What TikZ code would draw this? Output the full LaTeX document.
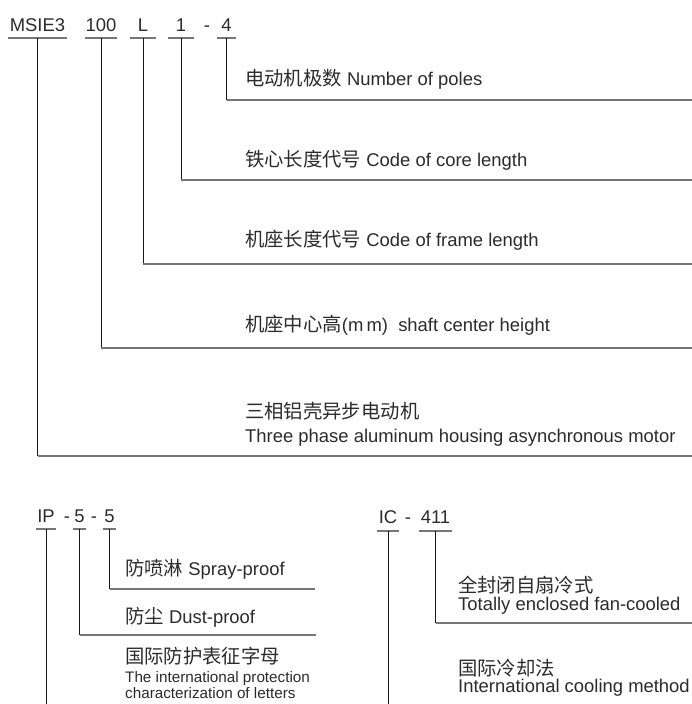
\documentclass[tikz,border=0pt]{standalone}
\usepackage{fontspec}
\setmainfont{Liberation Sans}
\newfontfamily\cjk[Scale=1.05]{Noto Sans CJK SC}
\usepackage{tikz}
\definecolor{ink}{HTML}{2B2B2B}
\definecolor{rulegray}{HTML}{767676}

\begin{document}
\begin{tikzpicture}[x=1bp, y=-1bp,
		code/.style={anchor=south, inner xsep=0pt, inner ysep=6bp, text depth=0pt, font=\fontsize{18.5}{20}\selectfont, text=ink},
		lbl/.style={anchor=base west, inner sep=0pt, font=\fontsize{18.5}{22}\selectfont, text=ink},
		small/.style={anchor=base west, inner sep=0pt, font=\fontsize{15.3}{18}\selectfont, text=ink},
		stem/.style={draw=black!90, line width=0.9bp},
		rule/.style={draw=rulegray, line width=1.3bp}]
		\useasboundingbox (0,0) rectangle (692,704);
		
		\node (msie) [code, minimum width=59bp] at (37.5,38) {MSIE3};
		\node (hund) [code, minimum width=30bp] at (101,38) {100};
		\node (frl) [code, minimum width=26bp] at (143,38) {L};
		\node (core) [code, minimum width=26bp] at (181,38) {1};
		\node (hyA) [code] at (207,38) {-};
		\node (pole) [code, minimum width=19bp] at (226.5,38) {4};
		
		\coordinate (poleEnd) at (692,100);
		\coordinate (coreEnd) at (692,180);
		\coordinate (frlEnd) at (692,264);
		\coordinate (hundEnd) at (692,348);
		\coordinate (msieEnd) at (692,456);
		
		\draw [rule] (msie.south west) -- (msie.south east);
		\draw [stem] (msie.south) -- (msie.south |- msieEnd);
		\draw [rule] (msie.south |- msieEnd) -- (msieEnd);
		\draw [rule] (hund.south west) -- (hund.south east);
		\draw [stem] (hund.south) -- (hund.south |- hundEnd);
		\draw [rule] (hund.south |- hundEnd) -- (hundEnd);
		\draw [rule] (frl.south west) -- (frl.south east);
		\draw [stem] (frl.south) -- (frl.south |- frlEnd);
		\draw [rule] (frl.south |- frlEnd) -- (frlEnd);
		\draw [rule] (core.south west) -- (core.south east);
		\draw [stem] (core.south) -- (core.south |- coreEnd);
		\draw [rule] (core.south |- coreEnd) -- (coreEnd);
		\draw [rule] (pole.south west) -- (pole.south east);
		\draw [stem] (pole.south) -- (pole.south |- poleEnd);
		\draw [rule] (pole.south |- poleEnd) -- (poleEnd);
		
		\node (poleTxt) [lbl] at (245,86) {{\cjk 电动机极数} Number of poles};
		\node (coreTxt) [lbl] at (245,166) {{\cjk 铁心长度代号} Code of core length};
		\node (frlTxt) [lbl] at (245,246) {{\cjk 机座长度代号} Code of frame length};
		\node (hundTxt) [lbl] at (245,331) {{\cjk 机座中心高}(m\,m)\ \ shaft center height};
		\node (msieTxt) [lbl] at (245,418) {\cjk 三相铝壳异步电动机};
		\node (msieEn) [lbl] at (245,442) {Three phase aluminum housing asynchronous motor};
		
		\node (ip) [code, minimum width=20bp] at (46,529) {IP};
		\node (hyB) [code] at (67,529) {-};
		\node (dust) [code, minimum width=13bp] at (79.5,529) {5};
		\node (hyC) [code] at (94,529) {-};
		\node (spray) [code, minimum width=13bp] at (109.5,529) {5};
		
		\node (ic) [code, inner ysep=7.5bp, minimum width=22bp] at (388,531) {IC};
		\node (hyD) [code, inner ysep=7.5bp] at (408,531) {-};
		\node (fan) [code, inner ysep=7.5bp, minimum width=33bp] at (435.5,531) {411};
		
		\coordinate (sprayEnd) at (315,589);
		\coordinate (dustEnd) at (316,635);
		\coordinate (ipEnd) at (46,704);
		\coordinate (fanEnd) at (692,623);
		\coordinate (icEnd) at (388,704);
		
		\draw [rule] (ip.south west) -- (ip.south east);
		\draw [stem] (ip.south) -- (ipEnd);
		\draw [rule] (dust.south west) -- (dust.south east);
		\draw [stem] (dust.south) -- (dust.south |- dustEnd);
		\draw [rule] (dust.south |- dustEnd) -- (dustEnd);
		\draw [rule] (spray.south west) -- (spray.south east);
		\draw [stem] (spray.south) -- (spray.south |- sprayEnd);
		\draw [rule] (spray.south |- sprayEnd) -- (sprayEnd);
		\draw [rule] (ic.south west) -- (ic.south east);
		\draw [stem] (ic.south) -- (icEnd);
		\draw [rule] (fan.south west) -- (fan.south east);
		\draw [stem] (fan.south) -- (fan.south |- fanEnd);
		\draw [rule] (fan.south |- fanEnd) -- (fanEnd);
		
		\node (sprayTxt) [lbl] at (125,575) {{\cjk 防喷淋} Spray-proof};
		\node (dustTxt) [lbl] at (125,623) {{\cjk 防尘} Dust-proof};
		\node (ipTxt) [lbl] at (125,663) {\cjk 国际防护表征字母};
		\node (ipEn) [small] at (125,682) {The international protection};
		\node (ipEnB) [small] at (125,698) {characterization of letters};
		
		\node (fanTxt) [lbl] at (458,592) {\cjk 全封闭自扇冷式};
		\node (fanEn) [lbl] at (458,610) {Totally enclosed fan-cooled};
		\node (icTxt) [lbl] at (458,675) {\cjk 国际冷却法};
		\node (icEn) [lbl] at (458,692) {International cooling method};
		
\end{tikzpicture}
\end{document}
